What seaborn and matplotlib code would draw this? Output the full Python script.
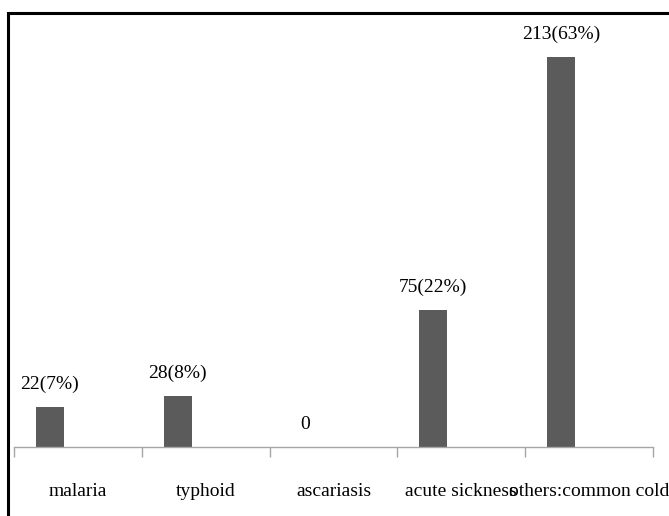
import matplotlib
matplotlib.use("Agg")
import matplotlib.pyplot as plt
from matplotlib.lines import Line2D
import numpy as np
import pandas as pd
import seaborn as sns

# Reported illnesses (counts and share of respondents)
causes = ["malaria", "typhoid", "ascariasis", "acute sickness", "others:common cold"]
counts = [22, 28, 0, 75, 213]
shares = ["7%", "8%", "", "22%", "63%"]
series_levels = ["cases", "series 2", "series 3"]

labels = [f"{c}({s})" if s else f"{c}" for c, s in zip(counts, shares)]

df = pd.DataFrame({"cause": causes, "count": counts, "series": series_levels[0]})

sns.set_theme(style="white")
plt.rcParams["font.family"] = ["Liberation Serif", "DejaVu Serif"]

W, H = 669, 516
fig = plt.figure(figsize=(W / 100, H / 100), dpi=100)
ax = fig.add_axes([14 / W, (H - 447) / H, 639 / W, 439.5 / H])

palette = {series_levels[0]: "#5b5b5b", series_levels[1]: "#9a9a9a", series_levels[2]: "#c8c8c8"}
sns.barplot(data=df, x="cause", y="count", hue="series", hue_order=series_levels,
            order=causes, palette=palette, saturation=1, width=0.657, dodge=True,
            linewidth=0, legend=False, ax=ax)

ax.set_ylim(0, 240)
ax.set_xlim(-0.5, len(causes) - 0.5)
ax.set_xlabel("")
ax.set_ylabel("")
ax.set_yticks([])

# Category boundaries carry the tick marks; names sit between them
ax.set_xticks(np.arange(len(causes) + 1) - 0.5)
ax.set_xticklabels([])
ax.set_xticks(np.arange(len(causes)), minor=True)
ax.set_xticklabels(causes, minor=True, fontsize=14, color="black")
ax.tick_params(axis="x", which="major", direction="out", length=7.5, width=1,
               color="#a6a6a6", bottom=True)
ax.tick_params(axis="x", which="minor", length=0, pad=26, bottom=True)

for side in ("left", "top", "right"):
    ax.spines[side].set_visible(False)
ax.spines["bottom"].set_color("#a6a6a6")
ax.spines["bottom"].set_linewidth(1)

ax.bar_label(ax.containers[0], labels=labels, padding=10, fontsize=14, color="black")

# Frame on the left and top edges of the figure
fig.add_artist(Line2D([8 / W, 8 / W, 1.0], [0.0, 1 - 13 / H, 1 - 13 / H],
                      transform=fig.transFigure, color="black", linewidth=2.2,
                      solid_joinstyle="miter"))

fig.savefig("out.png", dpi=100)
